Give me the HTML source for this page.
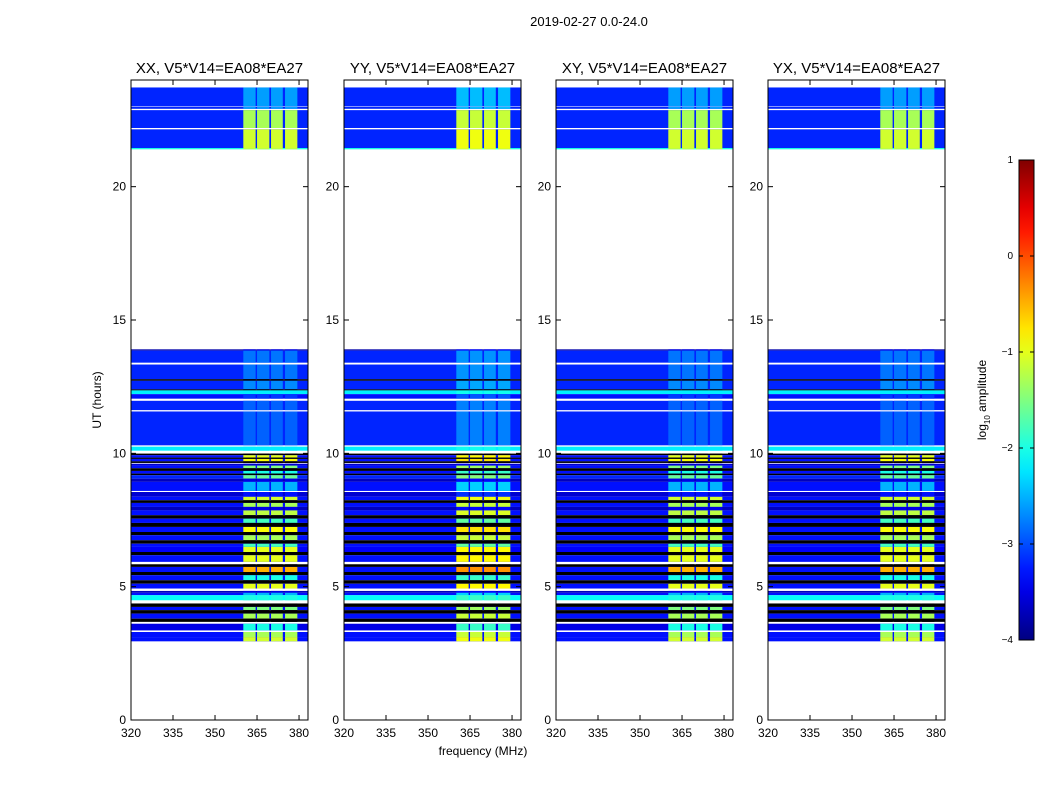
<!DOCTYPE html>
<html><head><meta charset="utf-8"><style>
body{margin:0;background:#fff;}
svg{display:block;font-family:"Liberation Sans",sans-serif;}
</style></head><body>
<svg id="chart" width="1050" height="800" viewBox="0 0 1050 800"></svg>
<script>
// ---- data (log10 amplitude levels per time block) ----
const panelTitles = ["XX, V5*V14=EA08*EA27","YY, V5*V14=EA08*EA27","XY, V5*V14=EA08*EA27","YX, V5*V14=EA08*EA27"];
const panelBandBoost = [0, 0.15, 0, 0];
const xTicks = [320,335,350,365,380];
const yTicks = [0,5,10,15,20];
const cbTicks = [1,0,-1,-2,-3,-4];
const cbTickLabels = ["1","0","\u22121","\u22122","\u22123","\u22124"];
// band channel ranges (MHz)
const bandStart = [360.1,365.0,370.0,375.0];
const bandEnd   = [364.5,369.4,374.2,379.4];
// time blocks: top hour, bottom hour, background level, band level (-9 = black)
const rowTop = [23.72,23.0,22.87,22.15,21.45, 13.9,13.85,13.33,12.78,12.72,12.4,12.36,12.22,11.97,11.57,10.25,
 9.99,9.93,9.84,9.79,9.70,9.61,9.54,9.44,9.34,9.24,9.18,9.05,8.93,8.55,8.37,8.24,8.14,7.99,7.86,7.68,7.55,7.39,7.24,7.05,6.93,6.74,6.61,6.49,6.30,6.18,5.84,5.74,5.55,5.43,5.24,5.11,4.84,4.77,4.68,4.37,4.24,4.12,3.99,3.80,3.61,3.30,3.11];
const rowBot = [23.02,22.92,22.2,21.45,21.4, 13.85,13.4,12.78,12.72,12.4,12.36,12.22,12.05,11.62,10.3,10.1,
 9.93,9.84,9.79,9.70,9.64,9.54,9.44,9.34,9.24,9.18,9.05,8.93,8.59,8.37,8.24,8.14,7.99,7.86,7.68,7.55,7.39,7.24,7.05,6.93,6.74,6.61,6.49,6.30,6.18,5.93,5.74,5.55,5.43,5.24,5.11,4.93,4.77,4.68,4.49,4.24,4.12,3.99,3.80,3.68,3.36,3.11,2.95];
const rowBg = [-3.2,-3.2,-3.2,-3.2,-2.0, -3.8,-3.2,-3.2,-9,-3.2,-9,-2.2,-3.3,-3.2,-3.2,-2.2,
 -9,-3.3,-9,-3.3,-9,-3.6,-3.3,-9,-3.3,-9,-3.2,-3.7,-3.3,-3.6,-3.3,-9,-3.3,-3.7,-3.3,-9,-3.3,-9,-3.3,-9,-3.3,-9,-3.3,-3.4,-9,-3.3,-9,-3.3,-9,-3.3,-9,-3.3,-3.7,-3.3,-2.1,-9,-3.3,-9,-3.3,-9,-3.5,-3.3,-3.3];
const rowBand = [-2.6,-2.6,-1.3,-1.1,-1.2, -3.5,-2.8,-2.8,-9,-2.7,-9,-2.2,-3.1,-2.9,-2.9,-2.2,
 -9,-1.0,-9,-0.9,-9,-3.6,-1.5,-9,-2.0,-9,-1.6,-3.5,-2.5,-3.3,-1.1,-9,-1.3,-3.5,-1.2,-9,-1.8,-9,-0.9,-9,-1.3,-9,-1.8,-1.0,-9,-1.0,-9,-0.5,-9,-2.0,-9,-1.0,-3.5,-2.5,-2.0,-9,-1.5,-9,-1.3,-9,-2.0,-1.3,-1.1];

// ---- rendering ----
const NS="http://www.w3.org/2000/svg";
const svg=document.getElementById('chart');
function el(tag,attrs,parent){const e=document.createElementNS(NS,tag);for(const k in attrs)e.setAttribute(k,attrs[k]);(parent||svg).appendChild(e);return e;}
function clamp(v){return Math.max(0,Math.min(1,v));}
function jet(level){
  if(level<=-8) return "#000";
  const t=clamp((level+4)/5);
  const r=clamp(1.5-Math.abs(4*t-3)),g=clamp(1.5-Math.abs(4*t-2)),b=clamp(1.5-Math.abs(4*t-1));
  return `rgb(${Math.round(r*255)},${Math.round(g*255)},${Math.round(b*255)})`;
}
const panelX=[131,344,556,768], PW=177, PT=80, PB=720;
const fMin=320, fMax=383.2;
function yS(h){return PB-(h/24)*(PB-PT);}

const t=el('text',{x:589,y:26,'text-anchor':'middle','font-size':13});
t.textContent="2019-02-27 0.0-24.0";


panelX.forEach((px,pi)=>{
  const g=el('g',{});
  
  
  const xS=f=>px+(f-fMin)/(fMax-fMin)*PW;
  for(let i=0;i<rowTop.length;i++){
    const y1=yS(rowTop[i]),y2=yS(rowBot[i]);
    const r=el('rect',{x:px,y:y1,width:PW,height:Math.max(0.6,y2-y1),fill:jet(rowBg[i])},g);
    
    
    for(let b=0;b<bandStart.length;b++){
      const lv=rowBand[i]<=-8?-9:rowBand[i]+panelBandBoost[pi];
      const c=el('rect',{x:xS(bandStart[b]),y:y1,width:xS(bandEnd[b])-xS(bandStart[b]),height:Math.max(0.6,y2-y1),fill:jet(lv)},g);
      
      
    }
  }
  el('rect',{x:px,y:PT,width:PW,height:PB-PT,fill:'none',stroke:'#000','stroke-width':1},g);
  xTicks.forEach(v=>{
    const x=xS(v);
    el('line',{x1:x,x2:x,y1:PB,y2:PB-5,stroke:'#000'},g);
    el('line',{x1:x,x2:x,y1:PT,y2:PT+5,stroke:'#000'},g);
    const tl=el('text',{x:x,y:PB+17,'text-anchor':'middle','font-size':12},g);
    tl.textContent=v;
    
  });
  yTicks.forEach(v=>{
    const y=yS(v);
    el('line',{x1:px,x2:px+5,y1:y,y2:y,stroke:'#000'},g);
    el('line',{x1:px+PW,x2:px+PW-5,y1:y,y2:y,stroke:'#000'},g);
    const tl=el('text',{x:px-5,y:y+4,'text-anchor':'end','font-size':12},g);
    tl.textContent=v;
    
  });
  const pt=el('text',{x:px+PW/2,y:73,'text-anchor':'middle','font-size':15},g);
  pt.textContent=panelTitles[pi];
  
});

const yl=el('text',{x:0,y:0,'text-anchor':'middle','font-size':12,transform:'translate(101,400) rotate(-90)'});
yl.textContent="UT (hours)";

const xl=el('text',{x:483,y:755,'text-anchor':'middle','font-size':12});
xl.textContent="frequency (MHz)";


// colorbar
const defs=el('defs',{});
const grad=el('linearGradient',{id:'jetg',x1:0,y1:1,x2:0,y2:0},defs);
for(let i=0;i<=20;i++){el('stop',{offset:i/20,'stop-color':jet(-4+5*i/20)},grad);}
const cb=el('rect',{x:1019,y:160,width:15,height:480,fill:'url(#jetg)',stroke:'#000'});

cbTicks.forEach((v,i)=>{
  const y=160+(1-v)/5*480;
  el('line',{x1:1019,x2:1023,y1:y,y2:y,stroke:'#000'});
  el('line',{x1:1034,x2:1030,y1:y,y2:y,stroke:'#000'});
  const tl=el('text',{x:1013,y:y+3,'text-anchor':'end','font-size':10});
  tl.textContent=cbTickLabels[i];
  
});
const cl=el('text',{x:0,y:0,'text-anchor':'middle','font-size':12,transform:'translate(986,400) rotate(-90)'});
cl.innerHTML='log<tspan font-size="8" dy="4">10</tspan><tspan dy="-4"> amplitude</tspan>';

</script>
</body></html>
